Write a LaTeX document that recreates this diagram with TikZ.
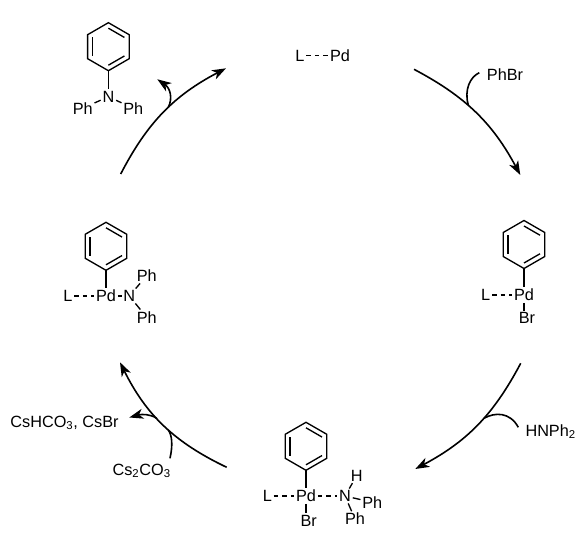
\documentclass[tikz,border=0pt]{standalone}
\usepackage{fontspec}
\setmainfont{Liberation Sans}
\usetikzlibrary{arrows.meta}
\tikzset{
 phenyl/.pic={
  \draw[bond] (90:24) -- (30:24) -- (-30:24) -- (-90:24) -- (-150:24) -- (150:24) -- cycle;
  \foreach \a in {30,150,270}
   \draw[bond] (\a:18.5) -- ({\a+60}:18.5);
  \coordinate (-base) at (90:24);
 }
}
\begin{document}
\begin{tikzpicture}[
 x=0.75pt,y=-0.75pt,
 >={Stealth[length=10.5pt,width=7.5pt,inset=3pt]},
 bond/.style={line width=1pt,line join=miter},
 weak/.style={bond,dash pattern=on 3.4pt off 3pt},
 cycleline/.style={line width=1.2pt},
 atom/.style={font=\fontsize{12.2}{14}\selectfont,inner sep=1.2pt},
 label/.style={font=\fontsize{12.2}{14}\selectfont,inner sep=0pt}
]
\useasboundingbox (0,0) rectangle (583,535);

\node[atom] (lA) at (300,55.7) {L};
\node[atom] (pdA) at (340,55.7) {Pd};
\draw[weak] (lA) -- (pdA);

\pic (ringB) at (524,244.5) {phenyl};
\node[atom] (pdB) at (524,295) {Pd};
\node[atom] (lB) at (485.7,295) {L};
\node[atom] (brB) at (527,318.3) {Br};
\draw[bond] (ringB-base) -- (pdB);
\draw[bond] (pdB.south) -- (pdB.south |- brB.north);
\draw[weak] (lB) -- (pdB);

\pic (ringC) at (306,446.3) {phenyl};
\node[atom] (pdC) at (306,496) {Pd};
\node[atom] (lC) at (267.3,496) {L};
\node[atom] (brC) at (308.7,520.7) {Br};
\node[atom] (nC) at (345,496) {N};
\node[atom] (hC) at (356.7,475.7) {H};
\node[atom] (phCa) at (372.3,502.3) {Ph};
\node[atom] (phCb) at (355,519) {Ph};
\draw[bond] (ringC-base) -- (pdC);
\draw[bond] (pdC.south) -- (pdC.south |- brC.north);
\draw[weak] (lC) -- (pdC);
\draw[weak] (pdC) -- (nC);
\foreach \b in {hC,phCa,phCb}
 \draw[bond] (nC) -- (\b);

\pic (ringD) at (106,246.3) {phenyl};
\node[atom] (pdD) at (106,296) {Pd};
\node[atom] (lD) at (68,296) {L};
\node[atom] (nD) at (129.3,296) {N};
\node[atom] (phDa) at (146.7,275.7) {Ph};
\node[atom] (phDb) at (146.7,317.3) {Ph};
\draw[bond] (ringD-base) -- (pdD);
\draw[weak] (lD) -- (pdD);
\draw[bond] (pdD) -- (nD);
\foreach \b in {phDa,phDb}
 \draw[bond] (nD) -- (\b);

\pic (ringE) at (108.4,46.7) {phenyl};
\node[atom] (nE) at (108.4,96.7) {N};
\node[atom] (phEa) at (82.7,108.3) {Ph};
\node[atom] (phEb) at (133.3,108.3) {Ph};
\draw[bond] (ringE-base) -- (nE);
\foreach \b in {phEa,phEb}
 \draw[bond] (nE) -- (\b);

\coordinate (arcAa) at (414,69.3);
\coordinate (arcAb) at (520.3,175);
\coordinate (arcBa) at (520.7,363.3);
\coordinate (arcBb) at (415.3,469);
\coordinate (arcCa) at (226.7,467.3);
\coordinate (arcCb) at (120,362.3);
\coordinate (arcDa) at (120.7,174);
\coordinate (arcDb) at (226,68.3);
\foreach \a/\b/\t in {arcAa/arcAb/17,arcBa/arcBb/17,arcCa/arcCb/19,arcDa/arcDb/17.5}
 \draw[cycleline,->] (\a) to[bend left=\t] (\b);

\node[label] (phbr) at (505,75) {PhBr};
\node[label] (hnph) at (550.7,431.5) {HNPh\textsubscript{2}};
\node[label] (cscarb) at (141.7,471) {Cs\textsubscript{2}CO\textsubscript{3}};
\node[label] (cswaste) at (64.5,423) {CsHCO\textsubscript{3}, CsBr};

\coordinate (sideAa) at (479.3,72.7);
\coordinate (sideAb) at (468.3,105);
\coordinate (sideBa) at (518.3,427.3);
\coordinate (sideBb) at (484,418.3);
\coordinate (sideCa) at (170,458.3);
\coordinate (sideCb) at (168.3,430);
\coordinate (sideDa) at (156.7,418.3);
\coordinate (sideDb) at (129.3,417.5);
\coordinate (sideEa) at (168.3,107.3);
\coordinate (sideEb) at (157.3,79.3);
\draw[cycleline] (sideAa) .. controls (470,77) and (464,90) .. (sideAb);
\draw[cycleline] (sideBa) .. controls (510,412) and (495,412) .. (sideBb);
\draw[cycleline] (sideCa) .. controls (173,445) and (172,435) .. (sideCb);
\draw[cycleline,->] (sideDa) .. controls (150,414) and (142,414) .. (sideDb);
\draw[cycleline,->] (sideEa) .. controls (173,98) and (170,88) .. (sideEb);
\end{tikzpicture}
\end{document}
